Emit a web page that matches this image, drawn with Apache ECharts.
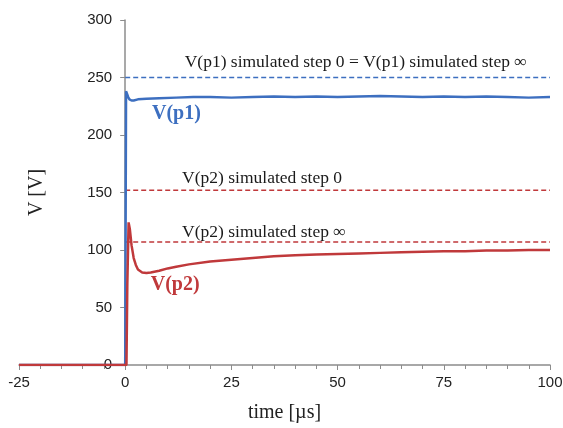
<!DOCTYPE html>
<html>
<head>
<meta charset="utf-8">
<script src="https://cdn.jsdelivr.net/npm/echarts@6/dist/echarts.min.js"></script>
<style>
    html, body { margin: 0; padding: 0; background: #fff; }
    #chart { width: 563px; height: 428px; }
</style>
</head>
<body>
<div id="chart"></div>
<script>
// measured curves (time in µs, voltage in V)
var timeP1 = [-25, 0, 0.2, 0.4, 0.7, 1.0, 1.5, 2, 3, 5, 8, 12, 16, 20, 25, 30, 35, 40, 45, 50, 55, 60, 65, 70, 75, 80, 85, 90, 95, 100]
var voltP1 = [0, 0, 238, 237, 233, 231, 230, 230, 231, 231.5, 232, 232.5, 233, 233, 232.5, 233, 233.5, 233, 233.5, 233, 233.5, 234, 233.5, 233, 233.5, 233, 233.5, 233, 232.5, 233]
var timeP2 = [-25, 0.3, 0.5, 0.8, 1.1, 1.5, 2, 2.5, 3, 4, 5, 6, 8, 10, 12, 15, 20, 25, 30, 35, 40, 45, 50, 55, 60, 65, 70, 75, 80, 85, 90, 95, 100]
var voltP2 = [0, 0, 70, 124, 118, 104, 93, 87, 83, 80.5, 80, 80.5, 82, 84, 85.5, 87.5, 90, 91.5, 93, 94.5, 95.5, 96, 96.5, 97, 97.5, 98, 98.5, 99, 99, 99.5, 99.5, 100, 100]

// simulated levels (dashed)
var refTime = [0, 100]
var simP1 = 250
var simP2Step0 = 152
var simP2StepInf = 107

// axis ticks
var xTicks = [-25, 0, 25, 50, 75, 100]
var yTicks = [0, 50, 100, 150, 200, 250, 300]

// text notes: [time, volt, text]
var notes = [
    [14, 263.5, 'V(p1) simulated step 0 = V(p1) simulated step \u221e'],
    [13.4, 162, 'V(p2) simulated step 0'],
    [13.4, 115, 'V(p2) simulated step \u221e']
]
var curveNames = [
    [6.3, 218, 'V(p1)', '#3d6fc0'],
    [6.0, 69.5, 'V(p2)', '#c0393b']
]

var blue = '#3d6fc0'
var red = '#c0393b'
var serif = '"Liberation Serif", "DejaVu Serif", serif'

function pairs (xs, ys) {
    return xs.map(function (x, i) { return [x, ys[i]] })
}
function flat (v) {
    return refTime.map(function (t) { return [t, v] })
}

var gridLeft = 19
var gridRight = 13
var plotWidth = 563 - gridLeft - gridRight
// y axis sits at time 0, not at the left of the grid
var yAxisShift = plotWidth * (0 - xTicks[0]) / (xTicks[xTicks.length - 1] - xTicks[0])

var chart = echarts.init(document.getElementById('chart'))
var option = {
    animation: false,
    grid: { left: gridLeft, right: gridRight, top: 20, bottom: 63, containLabel: false, outerBoundsMode: 'none' },
    xAxis: {
        type: 'value',
        min: xTicks[0],
        max: xTicks[xTicks.length - 1],
        interval: 25,
        splitLine: { show: false },
        axisLine: { lineStyle: { color: '#8c8c8c', width: 1.5 } },
        axisTick: { length: 5, lineStyle: { color: '#8c8c8c' } },
        minorTick: { show: true, splitNumber: 5, length: 4, lineStyle: { color: '#8c8c8c' } },
        axisLabel: { color: '#222', fontSize: 15, fontFamily: '"Liberation Sans", Arial', margin: 10 },
        name: 'time [\u00b5s]',
        nameLocation: 'middle',
        nameGap: 38,
        nameTextStyle: { color: '#222', fontSize: 20, fontFamily: serif }
    },
    yAxis: {
        type: 'value',
        min: yTicks[0],
        max: yTicks[yTicks.length - 1],
        interval: 50,
        offset: -yAxisShift,
        splitLine: { show: false },
        axisLine: { onZero: false, lineStyle: { color: '#8c8c8c', width: 1.5 } },
        axisTick: { length: 5, lineStyle: { color: '#8c8c8c' } },
        axisLabel: { color: '#222', fontSize: 15, fontFamily: '"Liberation Sans", Arial', margin: 13 },
        name: 'V [V]',
        nameLocation: 'middle',
        nameRotate: 90,
        nameGap: 78,
        nameTextStyle: { color: '#222', fontSize: 20, fontFamily: serif }
    },
    series: [
        {
            type: 'line', data: flat(simP1), symbol: 'none',
            lineStyle: { color: blue, width: 1.5, type: [5, 3] }
        },
        {
            type: 'line', data: flat(simP2Step0), symbol: 'none',
            lineStyle: { color: red, width: 1.5, type: [5, 3] }
        },
        {
            type: 'line', data: flat(simP2StepInf), symbol: 'none',
            lineStyle: { color: red, width: 1.5, type: [5, 3] }
        },
        {
            type: 'line', data: pairs(timeP1, voltP1), symbol: 'none',
            lineStyle: { color: blue, width: 2.5 }
        },
        {
            type: 'line', data: pairs(timeP2, voltP2), symbol: 'none',
            lineStyle: { color: red, width: 2.5 }
        },
        {
            type: 'scatter', symbolSize: 0, silent: true,
            itemStyle: { opacity: 1 },
            data: notes.map(function (n) { return { value: [n[0], n[1]], name: n[2] } }),
            label: {
                show: true, position: 'right', distance: 0,
                formatter: '{b}', color: '#1a1a1a', fontSize: 17.5, fontFamily: serif
            }
        },
        {
            type: 'scatter', symbolSize: 0, silent: true,
            itemStyle: { opacity: 1 },
            data: curveNames.map(function (n) {
                return { value: [n[0], n[1]], name: n[2], label: { color: n[3] } }
            }),
            label: {
                show: true, position: 'right', distance: 0,
                formatter: '{b}', fontSize: 20, fontWeight: 'bold', fontFamily: serif
            }
        }
    ]
}
chart.setOption(option)
</script>
</body>
</html>
